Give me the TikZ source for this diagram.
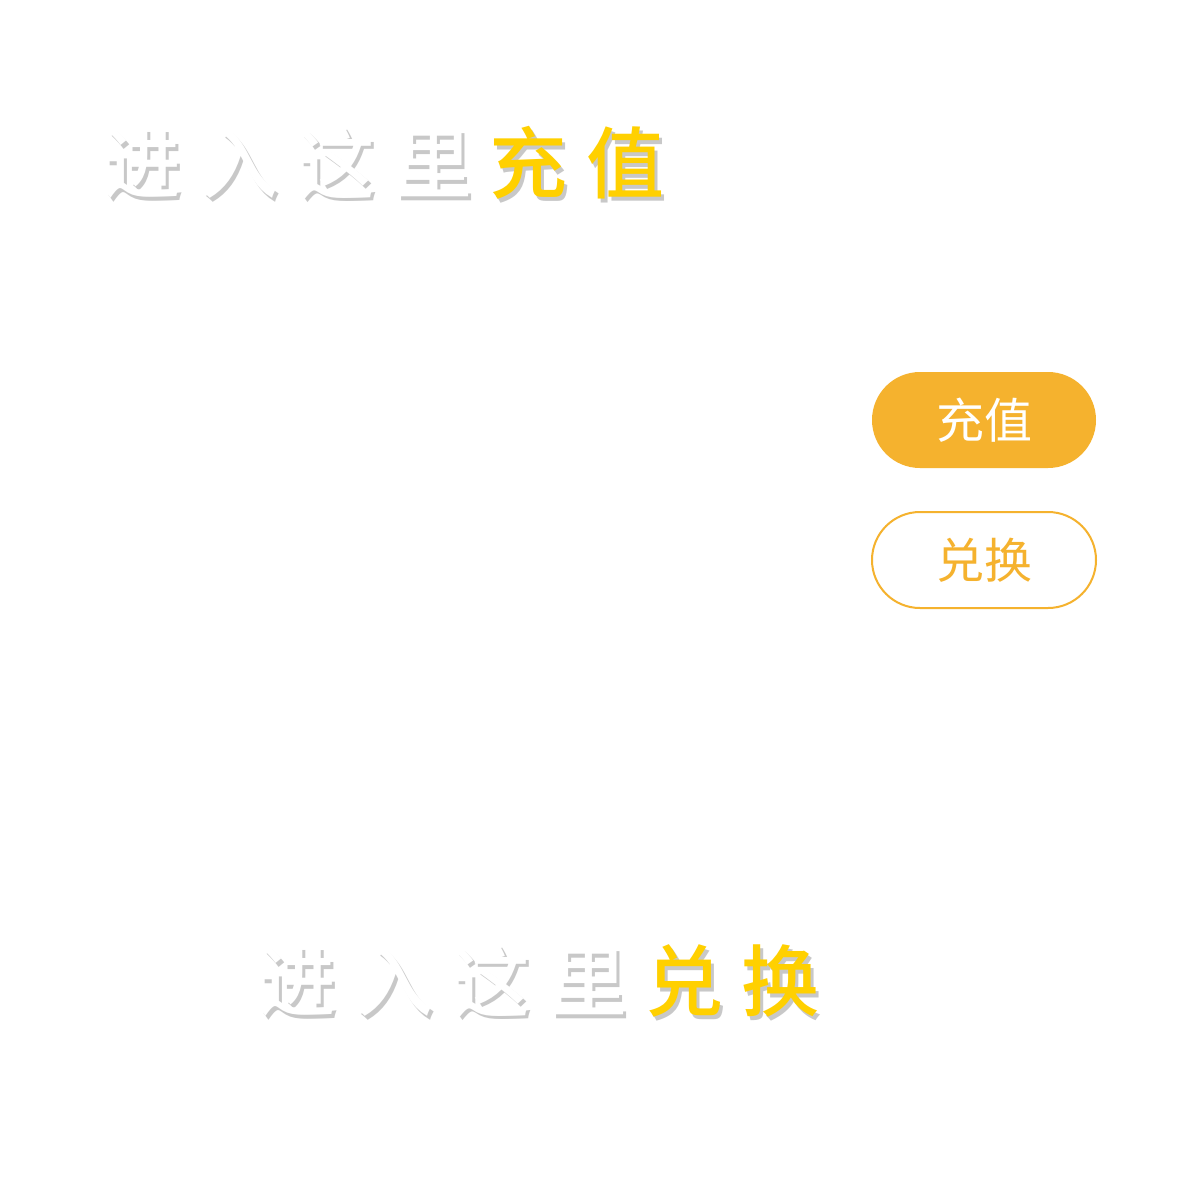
\documentclass[tikz,border=0pt]{standalone}
\usepackage{fontspec}
\newfontfamily\cjk{Noto Sans CJK SC}
\newfontfamily\cjkm{Noto Sans CJK SC Medium}
\definecolor{btnorange}{HTML}{F5B22E}
\definecolor{titleyellow}{HTML}{FFD000}
\definecolor{shadowgray}{HTML}{C8C8C8}
\newcommand{\shadowchar}[2]{\makebox[0pt][l]{\kern1.8pt\raisebox{-1.8pt}{\textcolor{shadowgray}{#2}}}\textcolor{#1}{#2}}
\begin{document}
\begin{tikzpicture}[x=0.5pt,y=-0.5pt,
  ch/.style={font=\cjkm\fontsize{39}{39}\selectfont, inner sep=0pt, anchor=center},
  btn/.style={rounded corners=24pt, minimum width=112pt, minimum height=48pt, inner sep=0pt,
              font=\cjk\fontsize{24}{24}\selectfont}]
\useasboundingbox[fill=white] (0,0) rectangle (1200,1200);
% top title
\foreach \c/\x [count=\i] in {进/142,入/239,这/336,里/433}{
  \node[ch] (t\i) at (\x,165) {\shadowchar{white}{\c}};
}
\foreach \c/\x [count=\i from 5] in {充/528,值/625}{
  \node[ch] (t\i) at (\x,165) {\shadowchar{titleyellow}{\c}};
}
% buttons
\node[btn, fill=btnorange, text=white] (recharge) at (984,420) {充值};
\node[btn, draw=btnorange, line width=1pt, text=btnorange] (exchange) at (984,560) {兑换};
% bottom title
\foreach \c/\x [count=\i] in {进/297,入/394,这/491,里/588}{
  \node[ch] (b\i) at (\x,983) {\shadowchar{white}{\c}};
}
\foreach \c/\x [count=\i from 5] in {兑/684,换/780}{
  \node[ch] (b\i) at (\x,983) {\shadowchar{titleyellow}{\c}};
}
\end{tikzpicture}
\end{document}
